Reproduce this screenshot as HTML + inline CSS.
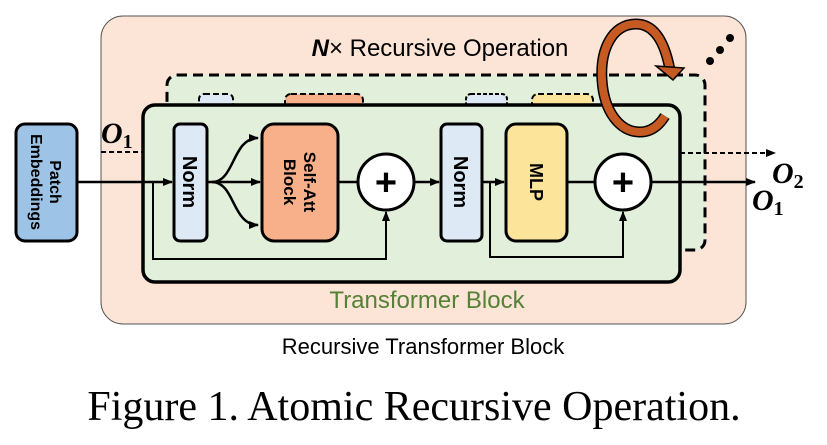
<!DOCTYPE html>
<html><head><meta charset="utf-8"><style>body{margin:0;background:#fff}svg{display:block}</style></head><body>
<svg width="827" height="445" viewBox="0 0 827 445" xmlns="http://www.w3.org/2000/svg" font-family="Liberation Sans, sans-serif">
<defs>
<marker id="a" markerWidth="10" markerHeight="10" refX="9" refY="5" orient="auto" markerUnits="userSpaceOnUse"><path d="M0,1 L10,5 L0,9 z" fill="#000"/></marker>
</defs>
<rect x="101" y="16" width="645" height="308" rx="22" fill="#fce4d6" stroke="#555" stroke-width="1"/>
<text x="440" y="56" font-size="24" text-anchor="middle"><tspan font-weight="bold" font-style="italic">N</tspan>× Recursive Operation</text>
<rect x="167" y="75" width="538" height="175" rx="10" fill="#e2efda" stroke="#000" stroke-width="3" stroke-dasharray="10,6"/>
<rect x="199" y="94" width="34" height="16" rx="5" fill="#dde9f5" stroke="#000" stroke-width="2" stroke-dasharray="6,3"/>
<rect x="285" y="94" width="78" height="16" rx="6" fill="#f8b08a" stroke="#000" stroke-width="2" stroke-dasharray="6,3"/>
<rect x="466" y="94" width="41" height="16" rx="5" fill="#dde9f5" stroke="#000" stroke-width="2" stroke-dasharray="4,2"/>
<rect x="532" y="94" width="61" height="16" rx="6" fill="#fde49b" stroke="#000" stroke-width="2" stroke-dasharray="6,3"/>
<rect x="143" y="105" width="537" height="177" rx="12" fill="#e2efda" stroke="#000" stroke-width="3.5"/>
<text x="427" y="308" font-size="24" fill="#538135" text-anchor="middle">Transformer Block</text>
<text x="423" y="354" font-size="22" text-anchor="middle">Recursive Transformer Block</text>
<text x="414" y="420" font-size="42" font-family="Liberation Serif, serif" text-anchor="middle">Figure 1. Atomic Recursive Operation.</text>
<rect x="16" y="124" width="61" height="117" rx="9" fill="#9dc3e6" stroke="#000" stroke-width="3"/>
<text transform="translate(46,182) rotate(90)" font-size="16" font-weight="bold" text-anchor="middle"><tspan x="0" dy="-4">Patch</tspan><tspan x="0" dy="19">Embeddings</tspan></text>
<rect x="174" y="124" width="33" height="117" rx="6" fill="#dde9f5" stroke="#000" stroke-width="3"/>
<text transform="translate(190,182) rotate(90)" font-size="20" font-weight="bold" text-anchor="middle"><tspan x="0" dy="7">Norm</tspan></text>
<rect x="262" y="124" width="76" height="117" rx="12" fill="#f8b08a" stroke="#000" stroke-width="3"/>
<text transform="translate(300,182) rotate(90)" font-size="17" font-weight="bold" text-anchor="middle"><tspan x="0" dy="-4">Self-Att</tspan><tspan x="0" dy="20">Block</tspan></text>
<rect x="441" y="124" width="41" height="117" rx="6" fill="#dde9f5" stroke="#000" stroke-width="3"/>
<text transform="translate(461,182) rotate(90)" font-size="20" font-weight="bold" text-anchor="middle"><tspan x="0" dy="7">Norm</tspan></text>
<rect x="506" y="124" width="61" height="117" rx="10" fill="#fde49b" stroke="#000" stroke-width="3"/>
<text transform="translate(536,182) rotate(90)" font-size="18" font-weight="bold" text-anchor="middle"><tspan x="0" dy="6">MLP</tspan></text>
<g stroke="#000" stroke-width="2.5" fill="none">
<path d="M77,182 H172" marker-end="url(#a)"/>
<path d="M207,182 H260" marker-end="url(#a)"/>
<path d="M212,182 C235,182 232,138 258,138" marker-end="url(#a)"/>
<path d="M212,182 C235,182 232,225 258,225" marker-end="url(#a)"/>
<path d="M338,182 H358"/>
<path d="M414,182 H439" marker-end="url(#a)"/>
<path d="M482,182 H504" marker-end="url(#a)"/>
<path d="M567,182 H595"/>
<path d="M651,182 H755" marker-end="url(#a)"/>
<path d="M153,182 V259 H386 V212" stroke-width="2" marker-end="url(#a)"/>
<path d="M490,182 V257 H623 V212" stroke-width="2" marker-end="url(#a)"/>
<path d="M101,152 H143" stroke-dasharray="5,3" stroke-width="2"/>
<path d="M680,153 H775" stroke-dasharray="5,3" stroke-width="2" marker-end="url(#a)"/>
</g>
<circle cx="386" cy="182" r="28" fill="#fff" stroke="#000" stroke-width="3"/>
<circle cx="623" cy="182" r="28" fill="#fff" stroke="#000" stroke-width="3"/>
<text x="386" y="195" font-size="38" font-weight="bold" text-anchor="middle">+</text>
<text x="623" y="195" font-size="38" font-weight="bold" text-anchor="middle">+</text>
<text x="101" y="143" font-size="30" font-weight="bold" font-style="italic" font-family="Liberation Serif, serif">O<tspan font-size="20" dy="5" font-style="normal">1</tspan></text>
<text x="772" y="183" font-size="30" font-weight="bold" font-style="italic" font-family="Liberation Serif, serif">O<tspan font-size="20" dy="5" font-style="normal">2</tspan></text>
<text x="752" y="210" font-size="30" font-weight="bold" font-style="italic" font-family="Liberation Serif, serif">O<tspan font-size="20" dy="5" font-style="normal">1</tspan></text>
<path d="M670,70 C664,38 652,24 636,24 C612,24 600,50 602,80 C604,112 620,132 640,132 C652,132 660,124 665,116" fill="none" stroke="#000" stroke-width="11"/>
<path d="M670,70 C664,38 652,24 636,24 C612,24 600,50 602,80 C604,112 620,132 640,132 C652,132 660,124 665,116" fill="none" stroke="#c55a22" stroke-width="8"/>
<path d="M656,66 L684,68 L673,80 z" fill="#c55a22" stroke="#000" stroke-width="1.5"/>
<circle cx="710" cy="61" r="4" fill="#000"/><circle cx="720" cy="50" r="4" fill="#000"/><circle cx="730" cy="38" r="4" fill="#000"/>
</svg>
</body></html>
